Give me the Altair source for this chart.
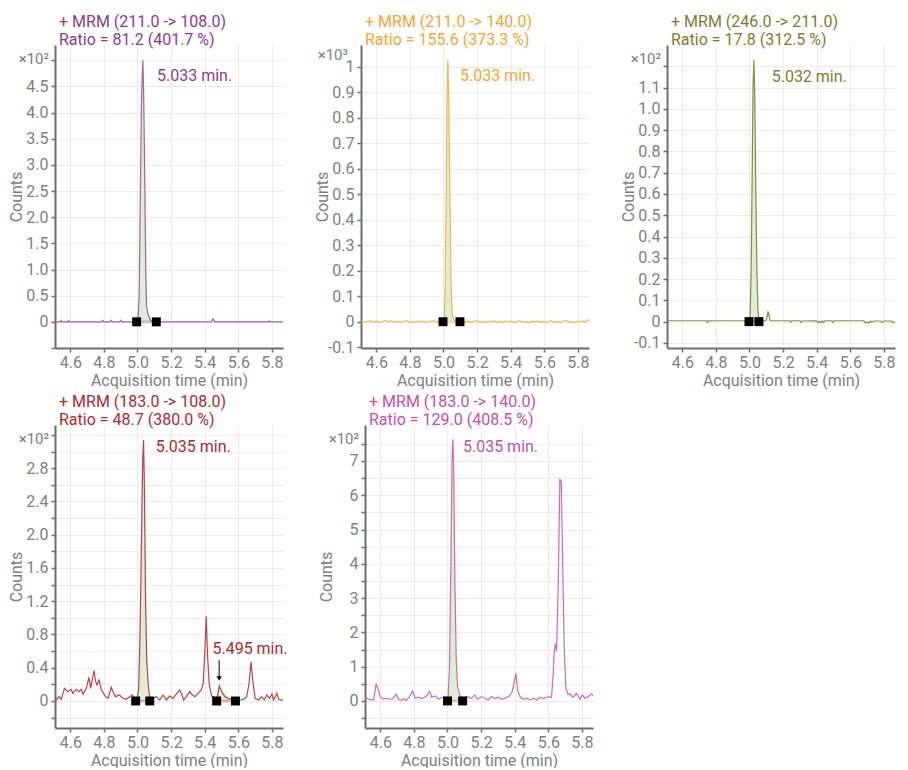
import altair as alt
import pandas as pd

FONT = "Roboto"
TXT = "#808080"
AXC = "#6e6e6e"
GRID = "#ebebeb"
FILL = "#dcedd2"

X_DOMAIN = [4.509, 5.866]
X_TICKS = [4.6, 4.8, 5.0, 5.2, 5.4, 5.6, 5.8]
X_TITLE = "Acquisition time (min)"
Y_TITLE = "Counts"

# ---------------- panel 1 ----------------
P1_TITLE = ["+ MRM (211.0 -> 108.0)", "Ratio = 81.2 (401.7 %)"]
P1_COLORS = ("#8c3d8c", "#a461a4")
P1_TRACE = [
    (4.51, 0), (4.54, 0), (4.546, 0.03), (4.552, 0), (4.585, 0), (4.59, 0.025), (4.596, 0),
    (4.785, 0), (4.794, 0.03), (4.80, 0), (4.835, 0), (4.842, 0.03), (4.85, 0),
    (4.893, 0), (4.90, 0.03), (4.907, 0), (4.995, 0), (5.003, 0.01), (5.010, 0.5),
    (5.017, 2.5), (5.024, 4.3), (5.032, 5.0), (5.037, 4.3), (5.044, 2.5), (5.050, 0.8),
    (5.054, 0.3), (5.060, 0.18), (5.070, 0.08), (5.080, 0.02), (5.095, 0.005), (5.112, 0),
    (5.44, 0), (5.45, 0.06), (5.46, 0), (5.778, 0), (5.784, 0.02), (5.79, 0), (5.866, 0),
]
P1_WINDOWS = [(4.995, 5.112)]
P1_PEAKS = [("5.033 min.", 5.116, 4.69)]
P1_YDOMAIN = [-0.5, 5.29]
P1_YTICKS = [-0.5, 0, 0.5, 1.0, 1.5, 2.0, 2.5, 3.0, 3.5, 4.0, 4.5, 5.0]
P1_YLABELS = [(0, "0"), (0.5, "0.5"), (1.0, "1.0"), (1.5, "1.5"), (2.0, "2.0"), (2.5, "2.5"),
              (3.0, "3.0"), (3.5, "3.5"), (4.0, "4.0"), (4.5, "4.5")]
P1_MULT = "×10²"

# ---------------- panel 2 ----------------
P2_TITLE = ["+ MRM (211.0 -> 140.0)", "Ratio = 155.6 (373.3 %)"]
P2_COLORS = ("#f5a630", "#f8b448")
P2_TRACE = [
    (4.51, 0.002), (4.53, -0.002), (4.55, 0.001), (4.565, 0.004), (4.58, -0.002), (4.60, 0.002),
    (4.62, -0.003), (4.64, 0.001), (4.655, 0.005), (4.67, 0.0), (4.69, 0.003), (4.71, -0.002),
    (4.725, 0.002), (4.74, -0.003), (4.76, 0.002), (4.78, 0.004), (4.795, -0.002), (4.81, 0.001),
    (4.83, -0.003), (4.85, 0.003), (4.87, -0.001), (4.885, 0.002), (4.90, -0.003), (4.92, 0.002),
    (4.94, 0.004), (4.955, -0.002), (4.97, 0.001), (4.985, -0.002), (4.997, 0.0), (5.004, 0.01),
    (5.010, 0.14), (5.016, 0.5), (5.021, 0.88), (5.026, 1.026), (5.031, 0.88), (5.038, 0.5),
    (5.045, 0.15), (5.052, 0.03), (5.06, 0.008), (5.075, 0.002), (5.098, -0.001), (5.115, 0.003),
    (5.13, -0.002), (5.15, 0.002), (5.165, -0.003), (5.18, 0.002), (5.20, 0.004), (5.215, -0.002),
    (5.23, 0.001), (5.25, -0.003), (5.265, 0.002), (5.28, -0.001), (5.30, 0.003), (5.32, -0.002),
    (5.335, 0.002), (5.35, -0.003), (5.37, 0.003), (5.385, -0.001), (5.40, 0.002), (5.42, -0.003),
    (5.44, 0.002), (5.455, 0.004), (5.47, -0.002), (5.49, 0.001), (5.51, -0.003), (5.525, 0.002),
    (5.54, 0.0), (5.56, 0.003), (5.575, -0.002), (5.59, 0.002), (5.61, -0.003), (5.625, 0.001),
    (5.64, 0.004), (5.66, -0.002), (5.68, 0.002), (5.695, -0.003), (5.71, 0.002), (5.73, 0.005),
    (5.745, -0.002), (5.76, 0.001), (5.78, -0.003), (5.80, 0.002), (5.815, -0.001), (5.83, 0.003),
    (5.845, -0.002), (5.856, 0.007), (5.866, 0.005),
]
P2_WINDOWS = [(4.997, 5.098)]
P2_PEAKS = [("5.033 min.", 5.098, 0.963)]
P2_YDOMAIN = [-0.103, 1.085]
P2_YTICKS = [-0.1, 0, 0.1, 0.2, 0.3, 0.4, 0.5, 0.6, 0.7, 0.8, 0.9, 1.0]
P2_YLABELS = [(-0.1, "-0.1"), (0, "0"), (0.1, "0.1"), (0.2, "0.2"), (0.3, "0.3"), (0.4, "0.4"),
              (0.5, "0.5"), (0.6, "0.6"), (0.7, "0.7"), (0.8, "0.8"), (0.9, "0.9"), (1.0, "1")]
P2_MULT = "×10³"

# ---------------- panel 3 ----------------
P3_TITLE = ["+ MRM (246.0 -> 211.0)", "Ratio = 17.8 (312.5 %)"]
P3_COLORS = ("#7d7d2c", "#8c8c3c")
P3_TRACE = [
    (4.51, 0.004), (4.60, 0.004), (4.70, 0.004), (4.745, 0.004), (4.75, -0.004), (4.755, 0.004),
    (4.85, 0.004), (4.95, 0.004), (4.997, 0.004), (5.004, 0.03), (5.010, 0.25), (5.016, 0.7),
    (5.021, 1.1), (5.026, 1.23), (5.031, 1.08), (5.037, 0.65), (5.044, 0.25), (5.050, 0.06),
    (5.056, 0.01), (5.07, 0.004), (5.098, 0.004), (5.104, 0.02), (5.110, 0.048), (5.116, 0.03),
    (5.122, 0.006), (5.13, 0.004), (5.24, 0.004), (5.246, -0.003), (5.252, 0.004), (5.30, 0.004),
    (5.306, -0.004), (5.312, 0.003), (5.40, 0.004), (5.41, -0.006), (5.418, 0.002), (5.426, -0.005),
    (5.434, 0.003), (5.442, -0.004), (5.45, 0.004), (5.49, 0.004), (5.496, -0.004), (5.502, 0.004),
    (5.60, 0.004), (5.68, 0.004), (5.69, -0.006), (5.70, -0.002), (5.71, -0.006), (5.72, 0.002),
    (5.73, -0.003), (5.74, 0.003), (5.78, 0.003), (5.79, -0.004), (5.80, 0.003), (5.845, 0.003),
    (5.85, -0.004), (5.866, -0.004),
]
P3_WINDOWS = [(4.997, 5.056)]
P3_PEAKS = [("5.032 min.", 5.132, 1.149)]
P3_YDOMAIN = [-0.124, 1.30]
P3_YTICKS = [-0.1, 0, 0.1, 0.2, 0.3, 0.4, 0.5, 0.6, 0.7, 0.8, 0.9, 1.0, 1.1, 1.2]
P3_YLABELS = [(-0.1, "-0.1"), (0, "0"), (0.1, "0.1"), (0.2, "0.2"), (0.3, "0.3"), (0.4, "0.4"),
              (0.5, "0.5"), (0.6, "0.6"), (0.7, "0.7"), (0.8, "0.8"), (0.9, "0.9"), (1.0, "1.0"),
              (1.1, "1.1")]
P3_MULT = "×10²"

# ---------------- panel 4 ----------------
P4_TITLE = ["+ MRM (183.0 -> 108.0)", "Ratio = 48.7 (380.0 %)"]
P4_COLORS = ("#b3282d", "#bb4347")
P4_TRACE = [
    (4.51, 0.0), (4.516, 0.012), (4.532, 0.052), (4.546, 0.02), (4.565, 0.152), (4.585, 0.112),
    (4.605, 0.14), (4.615, 0.092), (4.635, 0.14), (4.651, 0.112), (4.665, 0.14), (4.675, 0.084),
    (4.695, 0.152), (4.711, 0.285), (4.721, 0.152), (4.731, 0.253), (4.741, 0.365), (4.751, 0.233),
    (4.759, 0.193), (4.771, 0.253), (4.785, 0.132), (4.798, 0.092), (4.81, 0.052), (4.824, 0.032),
    (4.834, 0.092), (4.844, 0.164), (4.854, 0.112), (4.87, 0.052), (4.893, 0.072), (4.913, 0.032),
    (4.933, 0.02), (4.953, 0.052), (4.969, 0.072), (4.983, 0.012), (4.989, 0.01), (4.998, 0.03),
    (5.007, 0.15), (5.015, 0.8), (5.024, 2.0), (5.031, 2.9), (5.036, 3.14), (5.041, 2.6),
    (5.048, 1.2), (5.055, 0.5), (5.062, 0.25), (5.068, 0.12), (5.073, 0.06), (5.08, 0.04),
    (5.092, 0.032), (5.112, 0.052), (5.132, 0.012), (5.152, 0.072), (5.172, 0.012), (5.192, 0.06),
    (5.212, 0.032), (5.231, 0.084), (5.251, 0.132), (5.261, 0.092), (5.275, 0.012), (5.291, 0.052),
    (5.311, 0.112), (5.321, 0.084), (5.341, 0.052), (5.361, 0.092), (5.381, 0.14), (5.391, 0.213),
    (5.401, 0.6), (5.409, 1.02), (5.417, 0.55), (5.427, 0.2), (5.441, 0.06), (5.451, 0.05),
    (5.471, 0.012), (5.487, 0.18), (5.501, 0.112), (5.521, 0.052), (5.541, 0.032), (5.561, 0.02),
    (5.583, 0.01), (5.611, 0.012), (5.631, 0.02), (5.65, 0.052), (5.664, 0.213), (5.676, 0.47),
    (5.686, 0.253), (5.70, 0.032), (5.72, 0.012), (5.74, 0.052), (5.754, 0.012), (5.77, 0.072),
    (5.786, 0.032), (5.80, 0.084), (5.81, 0.012), (5.83, 0.092), (5.84, 0.02), (5.86, 0.01),
    (5.866, 0.01),
]
P4_WINDOWS = [(4.989, 5.073), (5.471, 5.583)]
P4_PEAKS = [("5.035 min.", 5.108, 3.06), ("5.495 min.", 5.446, 0.626)]
P4_ARROW = [(5.486, 0.49, 0.27)]
P4_YDOMAIN = [-0.325, 3.32]
P4_YTICKS = [-0.2, 0, 0.2, 0.4, 0.6, 0.8, 1.0, 1.2, 1.4, 1.6, 1.8, 2.0, 2.2, 2.4, 2.6, 2.8, 3.0, 3.2]
P4_YLABELS = [(0, "0"), (0.4, "0.4"), (0.8, "0.8"), (1.2, "1.2"), (1.6, "1.6"), (2.0, "2.0"),
              (2.4, "2.4"), (2.8, "2.8")]
P4_MULT = "×10²"

# ---------------- panel 5 ----------------
P5_TITLE = ["+ MRM (183.0 -> 140.0)", "Ratio = 129.0 (408.5 %)"]
P5_COLORS = ("#c64f9f", "#cf6bb4")
P5_TRACE = [
    (4.51, 0.06), (4.516, 0.078), (4.546, 0.029), (4.561, 0.029), (4.575, 0.50), (4.585, 0.37),
    (4.601, 0.107), (4.615, 0.058), (4.635, 0.078), (4.654, 0.049), (4.674, 0.068), (4.694, 0.195),
    (4.708, 0.049), (4.724, 0.01), (4.740, 0.068), (4.754, 0.01), (4.774, 0.127), (4.793, 0.292),
    (4.807, 0.078), (4.827, 0.107), (4.847, 0.068), (4.873, 0.127), (4.893, 0.273), (4.907, 0.107),
    (4.927, 0.146), (4.947, 0.049), (4.967, 0.107), (4.983, 0.107), (5.0, 0.1), (5.004, 0.15),
    (5.012, 1.0), (5.02, 4.0), (5.027, 7.0), (5.032, 7.63), (5.037, 6.8), (5.044, 3.5),
    (5.052, 1.2), (5.06, 0.4), (5.07, 0.2), (5.08, 0.12), (5.09, 0.08), (5.102, 0.049),
    (5.122, 0.127), (5.142, 0.068), (5.162, 0.175), (5.178, 0.049), (5.202, 0.127), (5.222, 0.078),
    (5.242, 0.029), (5.262, 0.127), (5.282, 0.068), (5.302, 0.107), (5.322, 0.049), (5.342, 0.078),
    (5.362, 0.127), (5.382, 0.224), (5.392, 0.419), (5.407, 0.81), (5.417, 0.322), (5.431, 0.127),
    (5.451, 0.049), (5.471, 0.078), (5.491, 0.029), (5.511, 0.078), (5.531, 0.029), (5.551, 0.107),
    (5.571, 0.068), (5.600, 0.127), (5.619, 0.1), (5.629, 0.76), (5.635, 1.44), (5.643, 1.68),
    (5.649, 1.44), (5.659, 3.39), (5.669, 6.46), (5.677, 6.41), (5.685, 4.17), (5.695, 1.44),
    (5.705, 0.37), (5.718, 0.18), (5.728, 0.20), (5.748, 0.107), (5.768, 0.224), (5.788, 0.049),
    (5.802, 0.175), (5.818, 0.078), (5.838, 0.127), (5.858, 0.205), (5.866, 0.15),
]
P5_WINDOWS = [(5.0, 5.09)]
P5_PEAKS = [("5.035 min.", 5.092, 7.42)]
P5_YDOMAIN = [-0.79, 8.05]
P5_YTICKS = [-0.5, 0, 0.5, 1, 1.5, 2, 2.5, 3, 3.5, 4, 4.5, 5, 5.5, 6, 6.5, 7, 7.5]
P5_YLABELS = [(0, "0"), (1, "1"), (2, "2"), (3, "3"), (4, "4"), (5, "5"), (6, "6"), (7, "7")]
P5_MULT = "×10²"

PLOT_W = 228
PLOT_H = 303


def label_expr(pairs):
    expr = "''"
    for val, lab in reversed(pairs):
        expr = f"datum.value == {val} ? '{lab}' : ({expr})"
    return expr


def make_panel(title, colors, trace, windows, peaks, ydomain, yticks, ylabels, mult,
               mult_pos=(-6, 14), arrows=None):
    title_color, line_color = colors
    df = pd.DataFrame(trace, columns=["t", "v"])
    x = alt.X("t:Q", scale=alt.Scale(domain=X_DOMAIN, nice=False, zero=False),
              axis=alt.Axis(values=X_TICKS, format=".1f", title=X_TITLE, grid=True,
                            gridColor=GRID, domainColor=AXC, domainWidth=2, tickColor=AXC,
                            tickSize=4, tickWidth=1.5, labelFont=FONT, labelFontSize=16,
                            labelColor=TXT, labelPadding=2, titleFont=FONT, titleFontSize=16,
                            titleColor=TXT, titleFontWeight="normal", titlePadding=2,
                            labelFlush=False, labelOverlap=False))
    y = alt.Y("v:Q", scale=alt.Scale(domain=ydomain, nice=False, zero=False),
              axis=alt.Axis(values=yticks, labelExpr=label_expr(ylabels), title=Y_TITLE,
                            grid=True, gridColor=GRID, domainColor=AXC, domainWidth=2,
                            tickColor=AXC, tickSize=4, tickWidth=1.5, labelFont=FONT,
                            labelFontSize=16, labelColor=TXT, labelPadding=3, titleFont=FONT,
                            titleFontSize=16, titleColor=TXT, titleFontWeight="normal",
                            titlePadding=0, minExtent=31, maxExtent=31, labelOverlap=False,
                            labelFlush=False))
    base = alt.Chart(df)
    layers = []
    for a, b in windows:
        layers.append(
            base.transform_filter(f"datum.t >= {a} && datum.t <= {b}")
            .mark_area(color=FILL, opacity=0.95, clip=True)
            .encode(x=x, y=y, y2=alt.datum(0))
        )
    layers.append(base.mark_line(color=line_color, strokeWidth=1.2, clip=True).encode(x=x, y=y))

    sq_rows = []
    for i, (a, b) in enumerate(windows):
        sq_rows.append((a, 0, i))
        sq_rows.append((b, 0, i))
    sq = pd.DataFrame(sq_rows, columns=["t", "v", "w"])
    layers.append(alt.Chart(sq).mark_line(color=line_color, strokeWidth=3, opacity=0.35)
                  .encode(x=x, y=y, detail="w:N"))
    layers.append(alt.Chart(sq).mark_square(size=80, color="black", opacity=1)
                  .encode(x=x, y=y))

    lab = pd.DataFrame(peaks, columns=["label", "t", "v"])
    layers.append(alt.Chart(lab).mark_text(align="left", baseline="middle", font=FONT,
                                           fontSize=16, color=title_color)
                  .encode(x=x, y=y, text="label:N"))

    if arrows:
        ar = pd.DataFrame(arrows, columns=["t", "v", "v2"])
        layers.append(alt.Chart(ar).mark_rule(color="black", strokeWidth=1)
                      .encode(x=x, y=y, y2="v2:Q"))
        head = pd.DataFrame([(a[0], a[2]) for a in arrows], columns=["t", "v"])
        layers.append(alt.Chart(head).mark_point(shape="triangle-down", filled=True, size=28,
                                                 color="black", opacity=1)
                      .encode(x=x, y=y))

    m = pd.DataFrame({"m": [mult]})
    layers.append(alt.Chart(m).mark_text(align="right", baseline="middle", font=FONT,
                                         fontSize=15, color=TXT)
                  .encode(x=alt.value(mult_pos[0]), y=alt.value(mult_pos[1]), text="m:N"))

    return alt.layer(*layers).properties(
        width=PLOT_W, height=PLOT_H,
        title=alt.TitleParams(text=title, anchor="start", frame="group", color=title_color,
                              font=FONT, fontSize=16, fontWeight="normal", lineHeight=18,
                              offset=-3, dx=4),
    )


p1 = make_panel(P1_TITLE, P1_COLORS, P1_TRACE, P1_WINDOWS, P1_PEAKS, P1_YDOMAIN, P1_YTICKS,
                P1_YLABELS, P1_MULT)
p2 = make_panel(P2_TITLE, P2_COLORS, P2_TRACE, P2_WINDOWS, P2_PEAKS, P2_YDOMAIN, P2_YTICKS,
                P2_YLABELS, P2_MULT, mult_pos=(-13, 10))
p3 = make_panel(P3_TITLE, P3_COLORS, P3_TRACE, P3_WINDOWS, P3_PEAKS, P3_YDOMAIN, P3_YTICKS,
                P3_YLABELS, P3_MULT)
p4 = make_panel(P4_TITLE, P4_COLORS, P4_TRACE, P4_WINDOWS, P4_PEAKS, P4_YDOMAIN, P4_YTICKS,
                P4_YLABELS, P4_MULT, arrows=P4_ARROW)
p5 = make_panel(P5_TITLE, P5_COLORS, P5_TRACE, P5_WINDOWS, P5_PEAKS, P5_YDOMAIN, P5_YTICKS,
                P5_YLABELS, P5_MULT)

row1 = alt.hconcat(p1, p2, p3, spacing=30)
row2 = alt.hconcat(p4, p5, spacing=30)
chart = alt.vconcat(row1, row2, spacing=6).properties(
    padding={"left": 0, "top": 6, "right": 0, "bottom": 0}
).configure_view(stroke=None)

chart.save("out.html", embed_options={"renderer": "svg", "actions": False})
